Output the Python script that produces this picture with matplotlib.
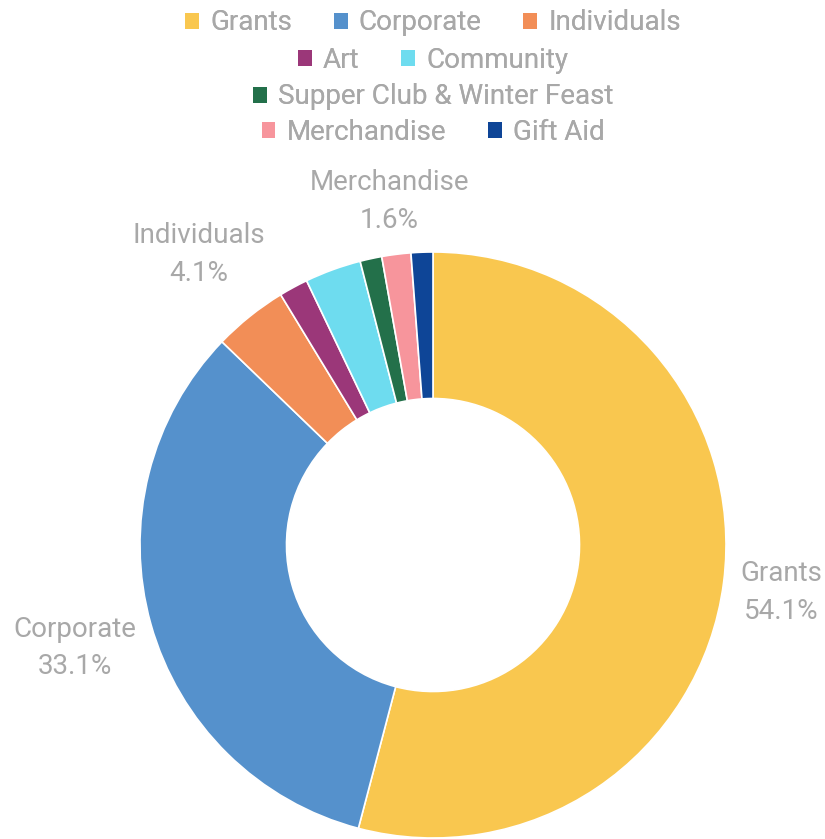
import numpy as np
import matplotlib.pyplot as plt

categories = ["Grants", "Corporate", "Individuals", "Art", "Community",
              "Supper Club & Winter Feast", "Merchandise", "Gift Aid"]
shares = [54.1, 33.1, 4.1, 1.6, 3.1, 1.2, 1.6, 1.2]
colors = ["#F9C74F", "#5591CC", "#F28E57", "#9B3779", "#6EDCEF",
          "#23704A", "#F7959C", "#0E4597"]
show_label = ["Grants", "Corporate", "Individuals", "Merchandise"]
legend_rows = [["Grants", "Corporate", "Individuals"],
               ["Art", "Community"],
               ["Supper Club & Winter Feast"],
               ["Merchandise", "Gift Aid"]]

plt.rcParams['font.family'] = ['Roboto', 'DejaVu Sans']
grey = "#A8A8A8"

W, H = 825, 839
fig = plt.figure(figsize=(W / 100, H / 100), dpi=100)
cx, cy, R = 433, 839 - 545, 293
ax = fig.add_axes([(cx - R) / W, (cy - R) / H, 2 * R / W, 2 * R / H])

wedges, _ = ax.pie(shares, colors=colors, startangle=90, counterclock=False,
                   radius=1.0, wedgeprops=dict(width=0.5, edgecolor="white", linewidth=1.2))
ax.set_xlim(-1, 1)
ax.set_ylim(-1, 1)
ax.set_aspect("equal")

# label distance from centre, per slice (in radii)
dist = {"Grants": 1.2, "Corporate": 1.27, "Individuals": 1.28, "Merchandise": 1.19}
for w, name, s in zip(wedges, categories, shares):
    if name not in show_label:
        continue
    ang = np.deg2rad((w.theta1 + w.theta2) / 2)
    d = dist[name]
    ax.text(d * np.cos(ang), d * np.sin(ang) - 0.008, "%s\n%.1f%%" % (name, s),
            ha="center", va="center", color=grey, fontsize=20,
            linespacing=1.5)

row_y = [23, 60, 97, 132]
lookup = dict(zip(categories, wedges))
for row, y in zip(legend_rows, row_y):
    hs = [lookup[n] for n in row]
    leg = fig.legend(hs, row, loc="center", bbox_to_anchor=(433 / W, 1 - y / H),
                     ncol=len(row), frameon=False, labelcolor=grey,
                     prop=dict(size=20),
                     handlelength=0.5, handleheight=0.5, handletextpad=0.4,
                     columnspacing=1.5, borderpad=0, borderaxespad=0)
    for h in leg.legend_handles:
        h.set_edgecolor("none")
    fig.add_artist(leg)

fig.savefig("out.png", dpi=100)
